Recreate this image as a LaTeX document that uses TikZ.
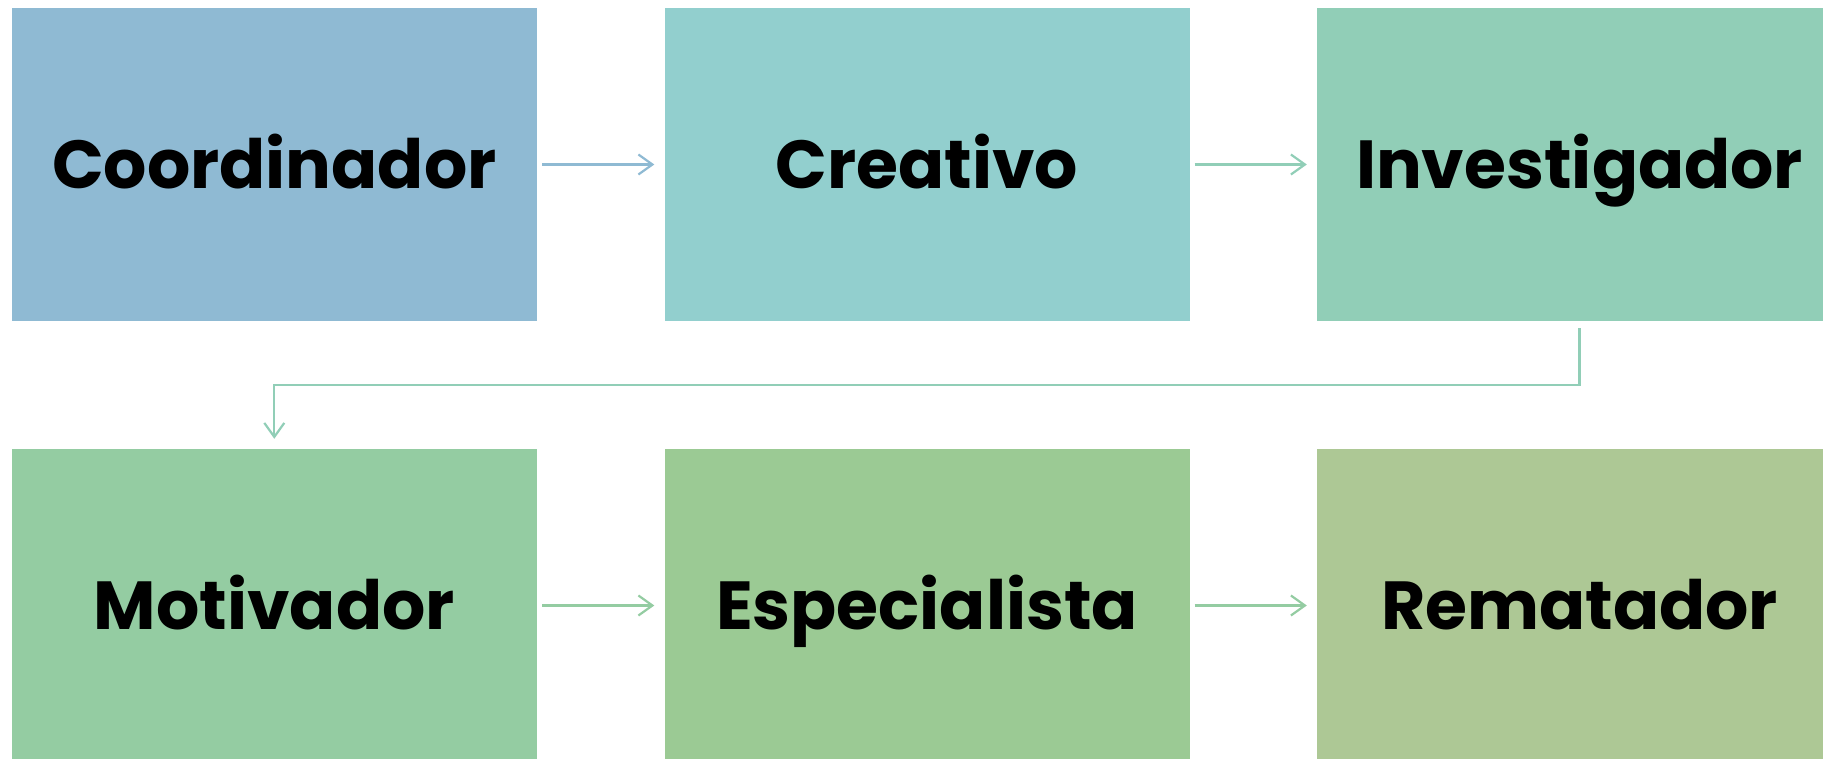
\documentclass[tikz,border=0pt]{standalone}
\usepackage{fontspec}
\setmainfont{Poppins}
\usetikzlibrary{arrows.meta}
\definecolor{cA}{RGB}{143,186,211}
\definecolor{cB}{RGB}{146,207,206}
\definecolor{cC}{RGB}{145,206,183}
\definecolor{cD}{RGB}{148,204,162}
\definecolor{cE}{RGB}{155,202,148}
\definecolor{cF}{RGB}{173,200,149}
\tikzset{
  box/.style={rectangle, minimum width=525pt, minimum height=313pt, inner sep=0pt,
    text height=48pt, text depth=0pt,
    font=\fontsize{68}{72}\selectfont\bfseries, text=black},
  conn/.style={line width=2.2pt, -{Straight Barb[length=14pt,width=20pt,line width=2.2pt]}},
}
\begin{document}
\begin{tikzpicture}[x=1pt,y=-1pt]
\useasboundingbox (0,0) rectangle (1823,759);
\node[box, fill=cA] (b1) at (274.3,164.5) {Coordinador};
\node[box, fill=cB] (b2) at (927,164.5) {Creativo};
\node[box, fill=cC] (b3) at (1579.5,164.5) {Investigador};
\node[box, fill=cD] (b4) at (274.3,605.5) {Motivador};
\node[box, fill=cE] (b5) at (927,605.5) {Especialista};
\node[box, fill=cF] (b6) at (1579.5,605.5) {Rematador};
\draw[conn, draw=cA, shorten <=5pt, shorten >=10pt] (b1.east) -- (b2.west);
\draw[conn, draw=cC, shorten <=5pt, shorten >=10pt] (b2.east) -- (b3.west);
\coordinate (k1) at (1579.5,385);
\coordinate (k2) at (274.3,385);
\draw[conn, draw=cC, shorten <=7pt, shorten >=10pt] (b3.south) -- (k1) -- (k2) -- (b4.north);
\draw[conn, draw=cD, shorten <=5pt, shorten >=10pt] (b4.east) -- (b5.west);
\draw[conn, draw=cD, shorten <=5pt, shorten >=10pt] (b5.east) -- (b6.west);
\end{tikzpicture}
\end{document}
